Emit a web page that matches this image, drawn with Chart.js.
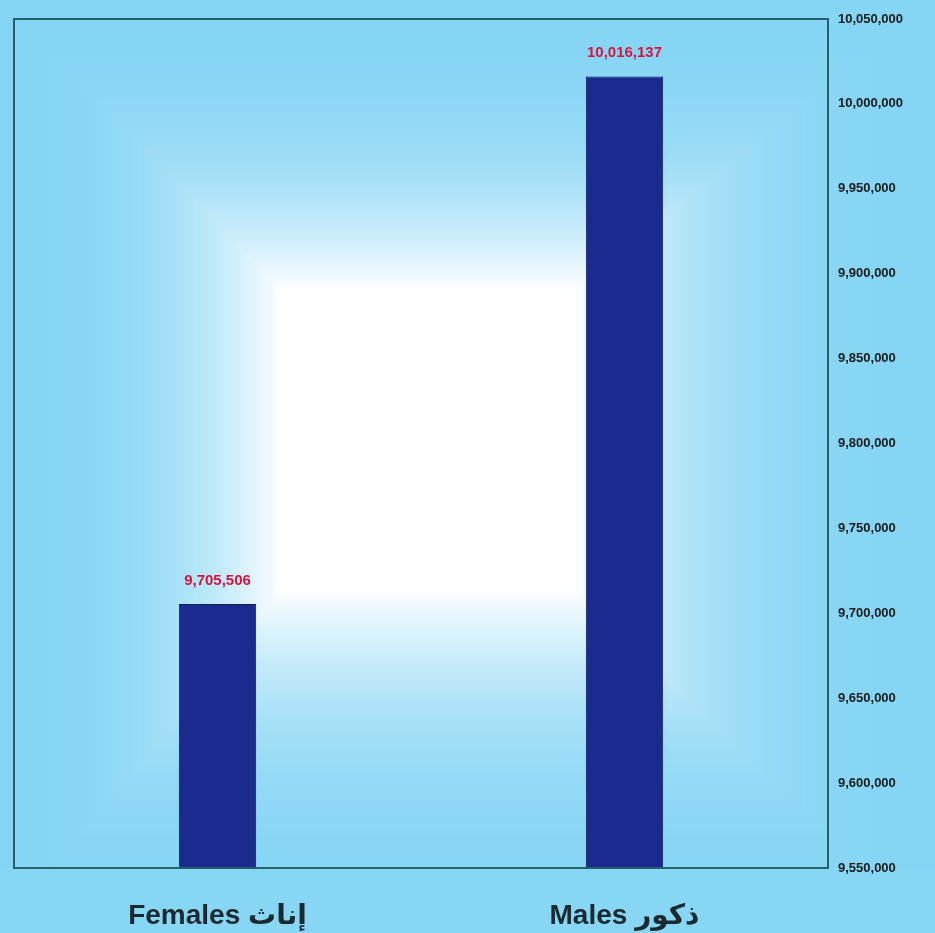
<!DOCTYPE html>
<html>
<head>
<meta charset="utf-8">
<script src="https://cdn.jsdelivr.net/npm/chart.js@4"></script>
<style>
  html, body { margin: 0; padding: 0; background: #87d6f4; }
  #wrap { position: relative; width: 935px; height: 933px; }
</style>
</head>
<body>
<div id="wrap"><canvas id="chart"></canvas></div>
<script>
const categories = ["Females إناث", "Males ذكور"];
const population = [9705506, 10016137];
const yTicks = [9550000, 9600000, 9650000, 9700000, 9750000, 9800000, 9850000, 9900000, 9950000, 10000000, 10050000];

const FONT = "'Liberation Sans', Arial, 'DejaVu Sans', sans-serif";

// rectangle-style gradient: light blue edges fading to a white middle
const bgPlugin = {
  id: "bg",
  beforeDraw(chart) {
    const ctx = chart.ctx;
    const W = chart.width, H = chart.height;
    const outer = [0, 0, W, H];
    const inner = [282, 290, 572, 590];
    const c0 = [133, 213, 244], c1 = [255, 255, 255];
    const N = 140;
    ctx.save();
    for (let i = 0; i <= N; i++) {
      const t = i / N;
      const k = Math.pow(t, 2.6);
      const x0 = outer[0] + (inner[0] - outer[0]) * t;
      const y0 = outer[1] + (inner[1] - outer[1]) * t;
      const x1 = outer[2] + (inner[2] - outer[2]) * t;
      const y1 = outer[3] + (inner[3] - outer[3]) * t;
      const c = c0.map((v, j) => Math.round(v + (c1[j] - v) * k));
      ctx.fillStyle = `rgb(${c[0]},${c[1]},${c[2]})`;
      ctx.fillRect(x0, y0, x1 - x0, y1 - y0);
    }
    // bottom strip under the axis stays blue
    ctx.fillStyle = "rgb(135,214,244)";
    ctx.fillRect(0, chart.chartArea.bottom + 2, W, H);
    ctx.restore();
  },
  afterDatasetsDraw(chart) {
    const ctx = chart.ctx;
    const a = chart.chartArea;
    ctx.save();
    ctx.strokeStyle = "#245f6b";
    ctx.lineWidth = 2;
    ctx.strokeRect(a.left, a.top, a.right - a.left, a.bottom - a.top);
    // value labels
    const meta = chart.getDatasetMeta(0);
    ctx.fillStyle = "#d2173f";
    ctx.font = "bold 15px " + FONT;
    ctx.textAlign = "center";
    ctx.textBaseline = "bottom";
    meta.data.forEach((bar, i) => {
      ctx.fillText(population[i].toLocaleString("en-US"), bar.x, bar.y - 16);
    });
    ctx.restore();
  }
};

new Chart(document.getElementById("chart"), {
  type: "bar",
  data: {
    labels: categories,
    datasets: [{
      data: population,
      backgroundColor: "#1b2a8e",
      borderColor: "#101c5e",
      borderWidth: 1,
      barPercentage: 0.19,
      categoryPercentage: 1
    }]
  },
  options: {
    responsive: true,
    maintainAspectRatio: false,
    animation: false,
    layout: { padding: { left: 14, top: 19, right: 0, bottom: 0 } },
    plugins: { legend: { display: false }, tooltip: { enabled: false } },
    scales: {
      x: {
        grid: { display: false, drawTicks: false },
        border: { display: false },
        ticks: {
          color: "#1b2a30",
          font: { family: FONT, size: 28, weight: "bold" },
          padding: 31
        },
        afterFit(s) { s.height = 65; }
      },
      y: {
        position: "right",
        min: 9550000,
        max: 10050000,
        afterBuildTicks(s) { s.ticks = yTicks.map(v => ({ value: v })); },
        grid: { display: false, drawTicks: true, tickLength: 4, tickColor: "#245f6b" },
        border: { display: false },
        ticks: {
          color: "#1a1a1a",
          font: { family: FONT, size: 13, weight: "bold" },
          padding: 6,
          callback: v => v.toLocaleString("en-US")
        },
        afterFit(s) { s.width = 107; }
      }
    }
  },
  plugins: [bgPlugin]
});
</script>
</body>
</html>
